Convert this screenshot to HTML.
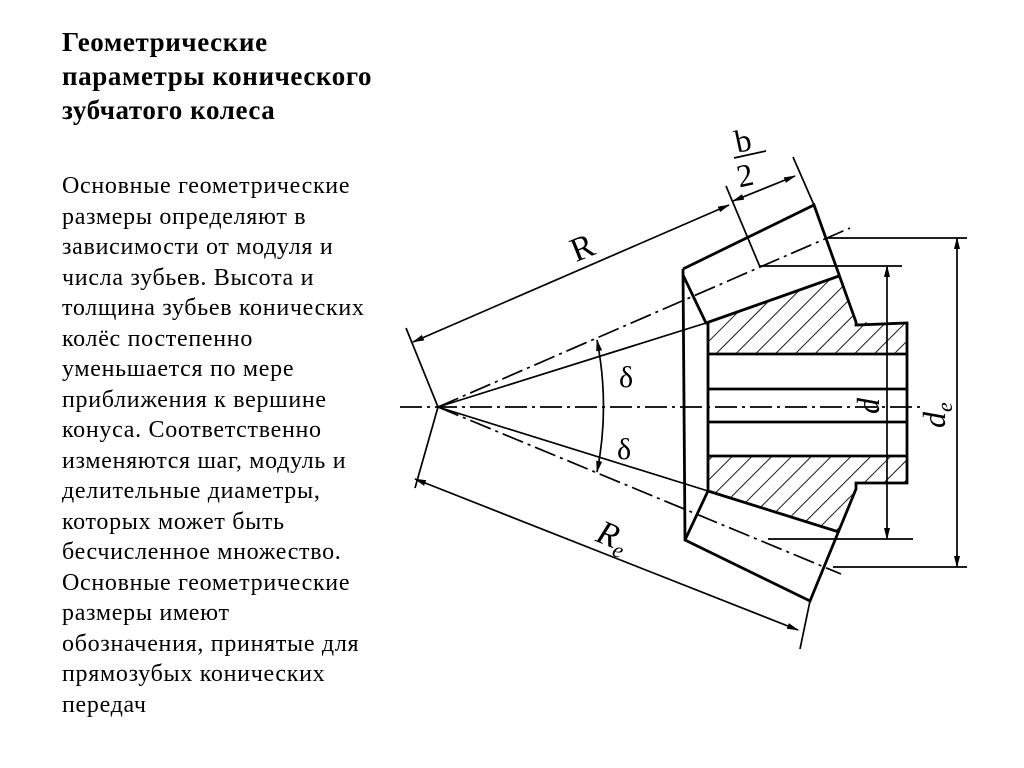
<!DOCTYPE html>
<html><head><meta charset="utf-8"><style>
body{margin:0;width:1024px;height:768px;background:#fff;position:relative;overflow:hidden}
.t{position:absolute;left:62px;top:25px;font:bold 27px/34px "Liberation Serif",serif;letter-spacing:0.6px;color:#000}
.b{position:absolute;left:62px;top:171px;font:24px/30.5px "Liberation Serif",serif;letter-spacing:0.7px;color:#000}
svg{position:absolute;left:0;top:0}
</style></head><body>
<div class="t">Геометрические<br>параметры конического<br>зубчатого колеса</div>
<div class="b">Основные геометрические<br>размеры определяют в<br>зависимости от модуля и<br>числа зубьев. Высота и<br>толщина зубьев конических<br>колёс постепенно<br>уменьшается по мере<br>приближения к вершине<br>конуса. Соответственно<br>изменяются шаг, модуль и<br>делительные диаметры,<br>которых может быть<br>бесчисленное множество.<br>Основные геометрические<br>размеры имеют<br>обозначения, принятые для<br>прямозубых конических<br>передач</div>
<svg width="1024" height="768" viewBox="0 0 1024 768">
<defs>
<pattern id="h" width="14" height="14" patternUnits="userSpaceOnUse" patternTransform="rotate(45)">
<line x1="0" y1="0" x2="0" y2="14" stroke="#000" stroke-width="1.8"/></pattern>
<marker id="a" markerWidth="12" markerHeight="8" refX="11" refY="4" orient="auto-start-reverse" markerUnits="userSpaceOnUse"><path d="M0,1 L12,4 L0,7 Z" fill="#000"/></marker>
</defs>
<g fill="url(#h)" stroke="none">
<polygon points="708,323 839,276 856,322 907,323 907,354 708,354"/>
<polygon points="708,456 907,456 907,483 856,483 856,489 839,532 708,491"/>
</g>
<g stroke="#000" stroke-width="2.8" fill="none">
<polyline points="683,269 814,205 856,322 856,325 907,323 907,483 856,483 856,489 810,601 685,540 683,269"/>
<polyline points="683,275 706,323 708,323 708,491 685,540"/>
<line x1="706" y1="323" x2="839" y2="276"/>
<line x1="708" y1="491" x2="839" y2="532"/>
<line x1="708" y1="354" x2="907" y2="354"/>
<line x1="708" y1="456" x2="907" y2="456"/>
<line x1="708" y1="389" x2="907" y2="389"/>
<line x1="708" y1="422" x2="907" y2="422"/>
</g>
<g stroke="#000" stroke-width="1.7" fill="none">
<line x1="438" y1="407" x2="706" y2="323"/>
<line x1="438" y1="407" x2="708" y2="491"/>
<line x1="406" y1="328" x2="438" y2="407"/>
<line x1="438" y1="407" x2="415" y2="488"/>
<line x1="726" y1="186" x2="760" y2="267"/>
<line x1="793" y1="157" x2="814" y2="205"/>
<line x1="810" y1="601" x2="800" y2="649"/>
<line x1="413" y1="342" x2="729" y2="205" marker-start="url(#a)" marker-end="url(#a)"/>
<line x1="733" y1="201" x2="795" y2="176" marker-start="url(#a)" marker-end="url(#a)"/>
<line x1="415" y1="479" x2="798" y2="630" marker-start="url(#a)" marker-end="url(#a)"/>
<line x1="825" y1="238" x2="967" y2="238"/>
<line x1="833" y1="567" x2="967" y2="567"/>
<line x1="760" y1="266" x2="902" y2="266"/>
<line x1="768" y1="539" x2="913" y2="539"/>
<line x1="887" y1="266" x2="887" y2="539" marker-start="url(#a)" marker-end="url(#a)"/>
<line x1="957" y1="238" x2="957" y2="567" marker-start="url(#a)" marker-end="url(#a)"/>
<path d="M597,340 Q610,407 597,472" marker-start="url(#a)" marker-end="url(#a)"/>
<g stroke-dasharray="22,5,3,5">
<line x1="400" y1="407" x2="925" y2="407"/>
<line x1="438" y1="407" x2="850" y2="228"/>
<line x1="438" y1="407" x2="841" y2="574"/>
</g>
<line x1="734" y1="158" x2="766" y2="151"/>
</g>
<g font-family="Liberation Serif,serif" fill="#000">
<text x="570" y="258" font-size="34" transform="rotate(-22 584 245)">R</text>
<text x="735" y="150" font-size="32" transform="rotate(-12 750 140)">b</text>
<text x="737" y="185" font-size="32" transform="rotate(-12 750 175)">2</text>
<text x="619" y="387" font-size="30">δ</text>
<text x="617" y="459" font-size="30">δ</text>
<text x="598" y="548" font-size="34" font-style="italic" transform="rotate(22 615 535)">R<tspan font-size="22" dy="7">e</tspan></text>
<text x="0" y="0" font-size="32" font-style="italic" transform="translate(879,414) rotate(-90)">d</text>
<text x="0" y="0" font-size="32" font-style="italic" transform="translate(945,428) rotate(-90)">d<tspan font-size="22" dy="7">e</tspan></text>
</g>
</svg>
</body></html>
